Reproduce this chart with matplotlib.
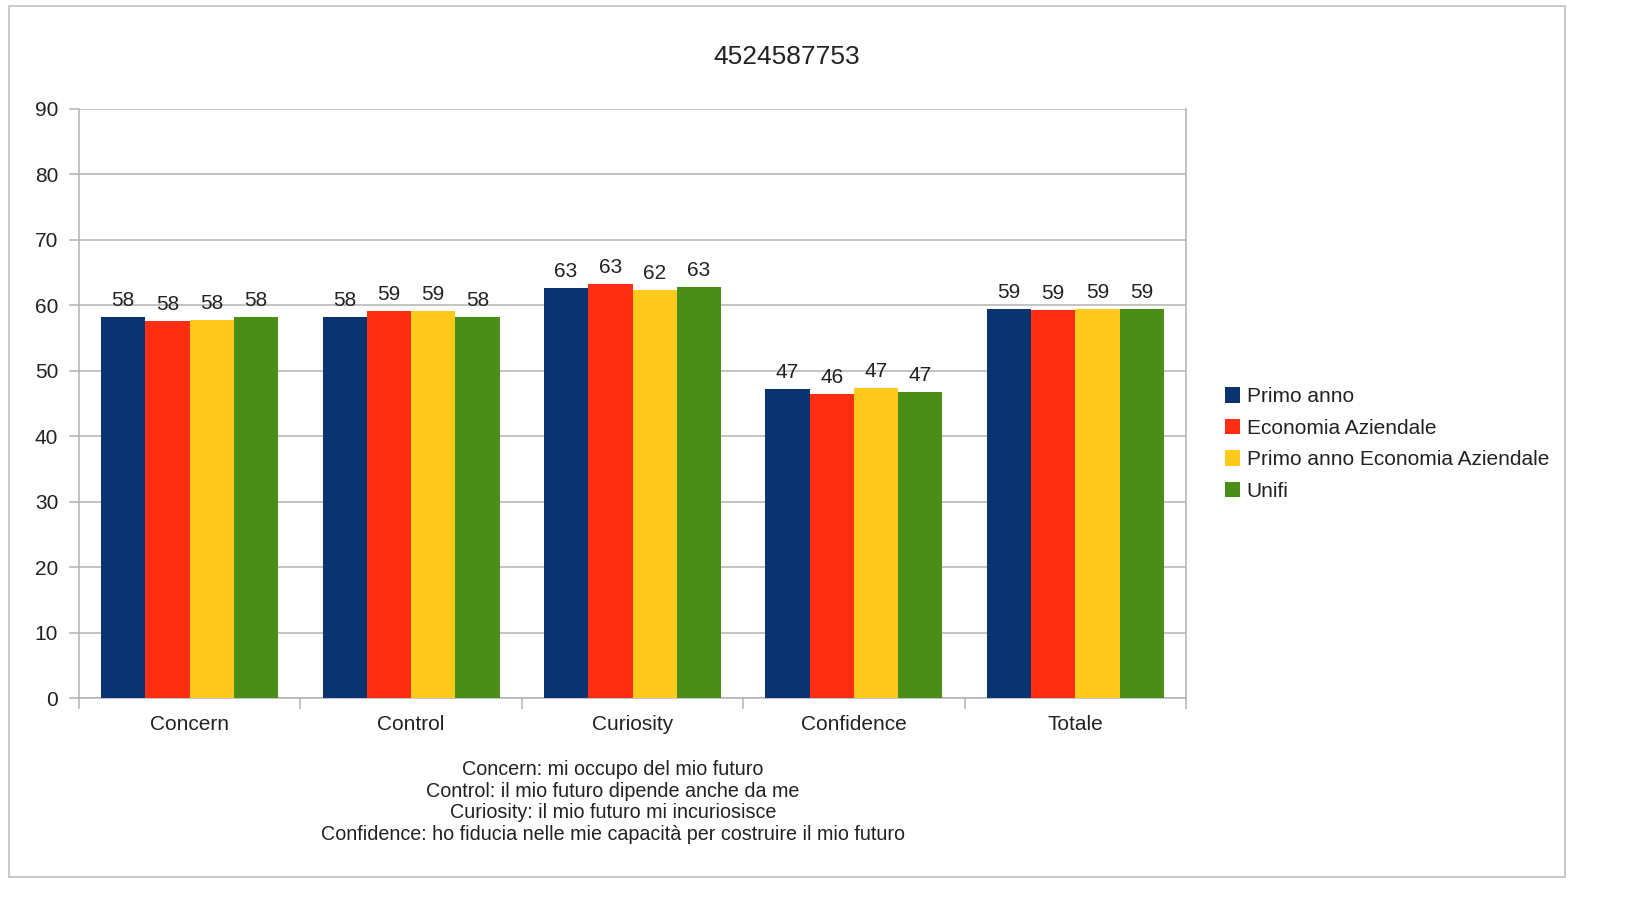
import numpy as np
import matplotlib.pyplot as plt
from matplotlib.patches import Rectangle

plt.rcParams['font.family'] = ['Liberation Sans', 'DejaVu Sans']

categorie = ['Concern', 'Control', 'Curiosity', 'Confidence', 'Totale']
serie = ['Primo anno', 'Economia Aziendale', 'Primo anno Economia Aziendale', 'Unifi']
primo_anno = [58.2, 58.2, 62.7, 47.2, 59.4]
economia = [57.6, 59.1, 63.3, 46.4, 59.3]
primo_economia = [57.8, 59.1, 62.3, 47.4, 59.4]
unifi = [58.2, 58.2, 62.8, 46.8, 59.4]
colori = ['#0a3470', '#ff2d12', '#ffc91e', '#4a8e18']
note = ['Concern: mi occupo del mio futuro',
        'Control: il mio futuro dipende anche da me',
        'Curiosity: il mio futuro mi incuriosisce',
        'Confidence: ho fiducia nelle mie capacità per costruire il mio futuro']

W, H = 1643, 919
fig = plt.figure(figsize=(W / 100, H / 100), dpi=100)
ax = fig.add_axes([79 / W, 1 - 698 / H, (1186 - 79) / W, (698 - 109) / H])

# cornice grigia
fig.patches.append(Rectangle((9 / W, 1 - 877 / H), 1556 / W, 871 / H,
                             transform=fig.transFigure, fill=False,
                             edgecolor='#c0c0c0', linewidth=1.2))

x = np.arange(len(categorie))
w = 0.2
valori = [primo_anno, economia, primo_economia, unifi]
for i, (v, c, nome) in enumerate(zip(valori, colori, serie)):
    barre = ax.bar(x + (i - 1.5) * w, v, w, color=c, label=nome, zorder=3)
    ax.bar_label(barre, labels=[str(int(round(a))) for a in v], padding=5,
                 fontsize=15, color='#222222')

ax.set_xlim(-0.5, len(categorie) - 0.5)
ax.set_ylim(0, 90)
ax.set_yticks(np.arange(0, 91, 10))
ax.yaxis.grid(True, color='#b3b3b3', linewidth=1.1, zorder=0)
ax.set_axisbelow(True)

ax.set_xticks(x)
ax.set_xticklabels(categorie, fontsize=15, color='#222222')
ax.tick_params(axis='x', length=0, pad=12)
ax.set_xticks(np.arange(-0.5, len(categorie)), minor=True)
ax.tick_params(axis='x', which='minor', length=8, color='#b3b3b3', width=1.1)
ax.tick_params(axis='y', length=7, color='#b3b3b3', width=1.1, labelsize=15,
               labelcolor='#222222', pad=8)

for s in ['left', 'right', 'bottom']:
    ax.spines[s].set_color('#b3b3b3')
    ax.spines[s].set_linewidth(1.1)
ax.spines['top'].set_visible(False)

fig.text(787 / W, 1 - 57 / H, '4524587753', ha='center', va='center',
         fontsize=19, color='#222222')

fig.text(613 / W, 1 - 760 / H, '\n'.join(note), ha='center', va='top',
         fontsize=14.2, color='#222222', linespacing=1.18)

ax.legend(loc='center left', bbox_to_anchor=(1206 / W, 1 - 444 / H),
          bbox_transform=fig.transFigure, frameon=False, fontsize=15,
          handlelength=0.75, handleheight=0.75, handletextpad=0.3,
          labelspacing=0.6, labelcolor='#222222')

fig.savefig('out.png', dpi=100)
